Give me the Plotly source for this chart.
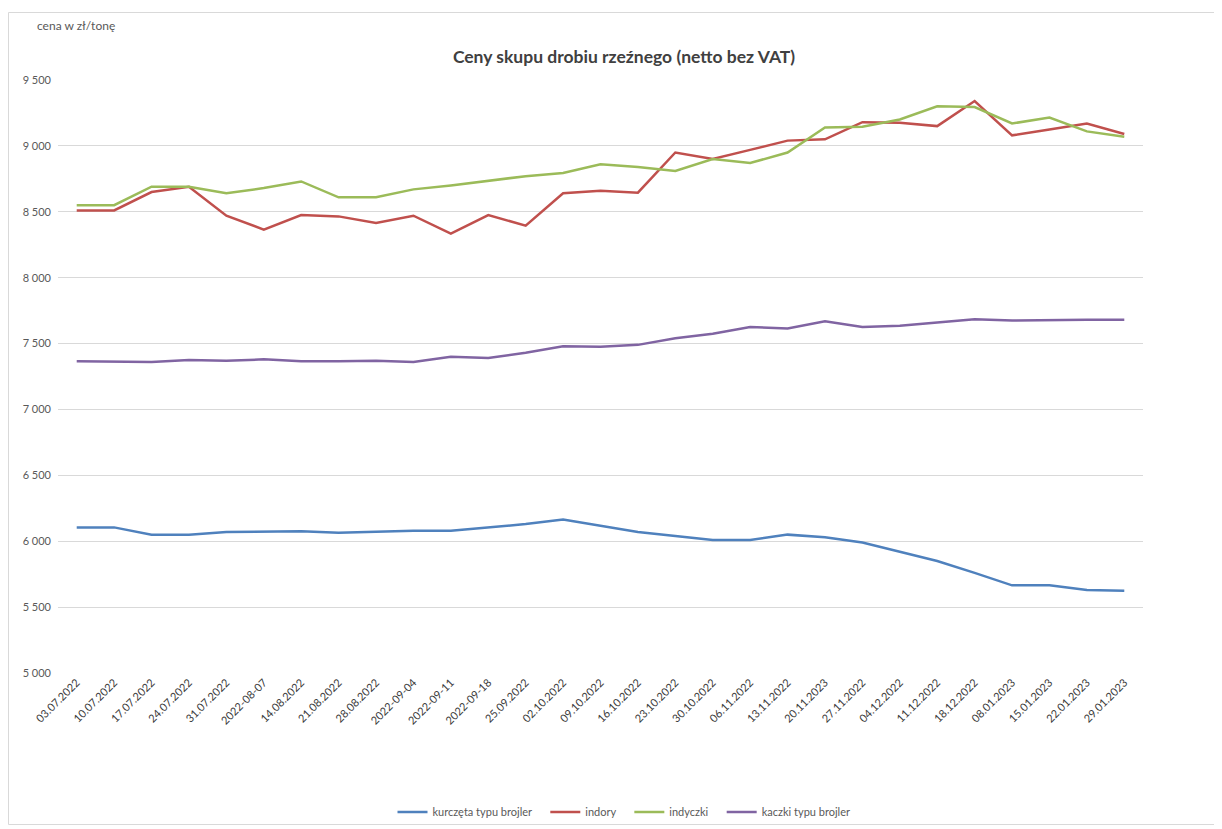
import plotly.graph_objects as go

dates = ["03.07.2022", "10.07.2022", "17.07.2022", "24.07.2022", "31.07.2022", "2022-08-07",
         "14.08.2022", "21.08.2022", "28.08.2022", "2022-09-04", "2022-09-11", "2022-09-18",
         "25.09.2022", "02.10.2022", "09.10.2022", "16.10.2022", "23.10.2022", "30.10.2022",
         "06.11.2022", "13.11.2022", "20.11.2023", "27.11.2022", "04.12.2022", "11.12.2022",
         "18.12.2022", "08.01.2023", "15.01.2023", "22.01.2023", "29.01.2023"]

kurczeta = [6105, 6105, 6050, 6050, 6070, 6070, 6075, 6065, 6075, 6080, 6080, 6105, 6130, 6165,
            6120, 6070, 6040, 6010, 6010, 6050, 6030, 5990, 5920, 5850, 5760, 5665, 5665, 5630, 5625]
indory = [8510, 8510, 8650, 8690, 8470, 8365, 8475, 8465, 8415, 8470, 8335, 8475, 8395, 8640,
          8660, 8645, 8950, 8900, 8970, 9040, 9050, 9180, 9175, 9150, 9340, 9080, 9125, 9170, 9090]
indyczki = [8550, 8550, 8690, 8690, 8640, 8680, 8730, 8610, 8610, 8670, 8700, 8735, 8770, 8795,
            8860, 8840, 8810, 8900, 8870, 8950, 9140, 9145, 9200, 9300, 9295, 9170, 9215, 9110, 9070]
kaczki = [7365, 7365, 7360, 7375, 7370, 7380, 7365, 7365, 7370, 7360, 7400, 7390, 7430, 7480,
          7475, 7490, 7540, 7575, 7625, 7615, 7670, 7625, 7635, 7660, 7685, 7675, 7680, 7680, 7680]

series_names = ["kurczęta typu brojler", "indory", "indyczki", "kaczki typu brojler"]
series_values = [kurczeta, indory, indyczki, kaczki]
series_colors = ["#4F81BD", "#C0504D", "#9BBB59", "#8064A2"]

FONT = "Lato"
W, H = 1222, 829
OFF = 8  # page body margin offset
PL, PR, PT, PB = 58 - OFF, 1143 - OFF, 80 - OFF, 673 - OFF
PW, PH = PR - PL, PB - PT


def px(xp):
    return (xp - OFF - PL) / PW


def py(yp):
    return (PB - (yp - OFF)) / PH


fig = go.Figure()
for i, (name, vals, col) in enumerate(zip(series_names, series_values, series_colors)):
    label = name + ("\u00a0" * 3 if i < len(series_names) - 1 else "")
    fig.add_trace(go.Scatter(x=dates, y=vals, mode="lines", name=label,
                             line=dict(color=col, width=2.5)))

fig.update_layout(
    width=W, height=H,
    margin=dict(l=PL, r=W - PR, t=PT, b=H - PB),
    paper_bgcolor="white", plot_bgcolor="white",
    separators=", ",
    font=dict(family=FONT, size=11, color="#595959"),
    title=dict(text="<b>Ceny skupu drobiu rzeźnego (netto bez VAT)</b>",
               x=(624 - OFF) / W, xanchor="center", y=1 - (57 - OFF) / H, yref="container",
               yanchor="middle",
               font=dict(family=FONT, size=17.5, color="#404040")),
    xaxis=dict(type="category", range=[-0.5, len(dates) - 0.5], tickangle=-45,
               showgrid=False, showline=False, zeroline=False, ticks="",
               tickfont=dict(family=FONT, size=11, color="#3A3A3A")),
    yaxis=dict(range=[5000, 9500], dtick=500, tickformat=",d", showgrid=True,
               gridcolor="#D9D9D9", gridwidth=1, zeroline=False, showline=False, ticks="",
               ticklabelstandoff=6,
               tickfont=dict(family=FONT, size=11, color="#595959")),
    legend=dict(orientation="h", x=(624 - OFF) / W, xanchor="center", xref="container",
                y=1 - (812 - OFF) / H, yref="container", yanchor="middle",
                bgcolor="rgba(0,0,0,0)",
                font=dict(family=FONT, size=11, color="#595959"), itemwidth=30),
    showlegend=True,
    annotations=[dict(text="cena w zł/tonę", xref="paper", yref="paper",
                      x=px(35), y=py(25), xanchor="left", yanchor="middle",
                      showarrow=False, font=dict(family=FONT, size=12, color="#595959"))],
    shapes=[dict(type="rect", xref="paper", yref="paper",
                 x0=px(8.5), x1=px(1214.5), y0=py(824.5), y1=py(12.5),
                 line=dict(color="#D9D9D9", width=1), fillcolor="rgba(0,0,0,0)", layer="below")],
)

fig.write_html("out.html")
